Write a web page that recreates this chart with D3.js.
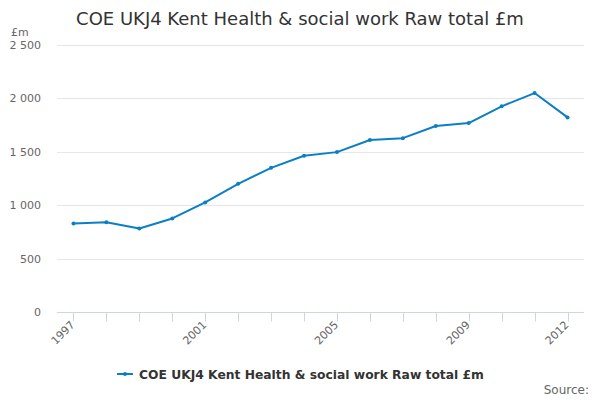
<!DOCTYPE html>
<html lang="en">
<head>
<meta charset="utf-8">
<script src="https://d3js.org/d3.v7.min.js"></script>
<style>
  body { margin: 0; background: #fff; }
  text { font-family: "DejaVu Sans", sans-serif; }
</style>
</head>
<body>
<script>
// data
const years = ["1997","1998","1999","2000","2001","2002","2003","2004","2005","2006","2007","2008","2009","2010","2011","2012"];
const values = [829, 841, 782, 876, 1026, 1200, 1350, 1463, 1497, 1610, 1628, 1741, 1769, 1926, 2050, 1822];
const yTicks = [0, 500, 1000, 1500, 2000, 2500];
const xLabels = ["1997", "2001", "2005", "2009", "2012"];
const title = "COE UKJ4 Kent Health & social work Raw total £m";
const seriesName = "COE UKJ4 Kent Health & social work Raw total £m";

const width = 600, height = 400;
const margin = {top: 45, right: 16, bottom: 88, left: 57};

const svg = d3.select("body").append("svg")
    .attr("width", width)
    .attr("height", height);

const x = d3.scalePoint()
    .domain(years)
    .range([margin.left, width - margin.right])
    .padding(0.5);

const y = d3.scaleLinear()
    .domain([0, 2500])
    .range([height - margin.bottom, margin.top]);

const fmt = v => d3.format(",")(v).replace(/,/g, " ");

// gridlines
svg.append("g")
  .selectAll("line")
  .data(yTicks.filter(d => d > 0))
  .join("line")
    .attr("x1", margin.left)
    .attr("x2", width - margin.right)
    .attr("y1", d => Math.round(y(d)) + 0.5)
    .attr("y2", d => Math.round(y(d)) + 0.5)
    .attr("stroke", "#e6e6e6");

// y labels
svg.append("g")
  .selectAll("text")
  .data(yTicks)
  .join("text")
    .attr("x", 41)
    .attr("y", d => y(d) + 4)
    .attr("text-anchor", "end")
    .attr("font-size", 11)
    .attr("fill", "#666")
    .text(fmt);

svg.append("text")
    .attr("x", 11)
    .attr("y", 36)
    .attr("font-size", 11)
    .attr("fill", "#666")
    .text("£m");

// x axis line + ticks
const base = Math.round(y(0)) + 0.5;
svg.append("line")
    .attr("x1", margin.left)
    .attr("x2", width - margin.right)
    .attr("y1", base)
    .attr("y2", base)
    .attr("stroke", "#ccd6eb");

svg.append("g")
  .selectAll("line")
  .data(years)
  .join("line")
    .attr("x1", d => Math.round(x(d)) + 0.5)
    .attr("x2", d => Math.round(x(d)) + 0.5)
    .attr("y1", base)
    .attr("y2", base + 9)
    .attr("stroke", "#ccd6eb");

svg.append("g")
  .selectAll("text")
  .data(xLabels)
  .join("text")
    .attr("transform", d => `translate(${x(d) + 2},${base + 13}) rotate(-45)`)
    .attr("text-anchor", "end")
    .attr("font-size", 11)
    .attr("fill", "#666")
    .text(d => d);

// series
const line = d3.line()
    .x((d, i) => x(years[i]))
    .y(d => y(d));

svg.append("path")
    .datum(values)
    .attr("fill", "none")
    .attr("stroke", "#0a7fc5")
    .attr("stroke-width", 2)
    .attr("stroke-linejoin", "round")
    .attr("d", line);

svg.append("g")
  .selectAll("circle")
  .data(values)
  .join("circle")
    .attr("cx", (d, i) => x(years[i]))
    .attr("cy", d => y(d))
    .attr("r", 2)
    .attr("fill", "#0a7fc5");

// title
svg.append("text")
    .attr("x", 300)
    .attr("y", 25)
    .attr("text-anchor", "middle")
    .attr("font-size", 18)
    .attr("fill", "#333")
    .text(title);

// legend
const lg = svg.append("g").attr("transform", "translate(117,374)");
lg.append("line")
    .attr("x1", 0).attr("x2", 16)
    .attr("y1", 0).attr("y2", 0)
    .attr("stroke", "#0a7fc5")
    .attr("stroke-width", 2);
lg.append("circle")
    .attr("cx", 8).attr("cy", 0).attr("r", 2)
    .attr("fill", "#0a7fc5");
lg.append("text")
    .attr("x", 22)
    .attr("y", 4.5)
    .attr("font-size", 12.3)
    .attr("font-weight", "bold")
    .attr("fill", "#333")
    .text(seriesName);

svg.append("text")
    .attr("x", 589)
    .attr("y", 394)
    .attr("text-anchor", "end")
    .attr("font-size", 12)
    .attr("fill", "#666")
    .text("Source:");
</script>
</body>
</html>
